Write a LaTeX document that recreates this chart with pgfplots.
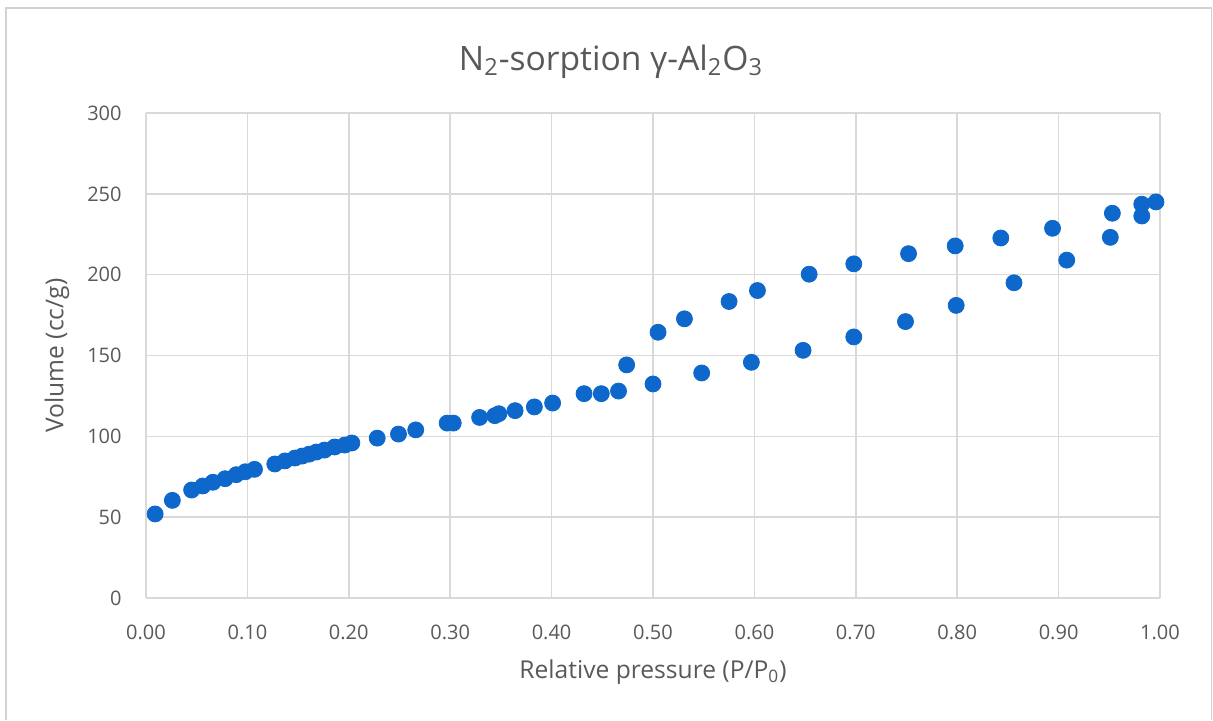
\documentclass[border=0pt]{standalone}
\usepackage{pgfplots}
\pgfplotsset{compat=1.18}
\usepackage{fontspec}
\setmainfont{Open Sans}
\definecolor{ptblue}{RGB}{14,104,204}
\definecolor{gridgray}{RGB}{217,217,217}
\definecolor{txtgray}{RGB}{89,89,89}
\definecolor{framegray}{RGB}{210,210,210}
\begin{document}
\begin{tikzpicture}
\useasboundingbox (0pt,0pt) rectangle (606.5pt,360pt);
\fill[white] (0pt,0pt) rectangle (606.5pt,360pt);
\draw[framegray,line width=0.8pt] (3pt,0pt) -- (3pt,356pt) -- (605.8pt,356pt) -- (605.8pt,0pt);
\node[font=\fontsize{16.8}{20}\selectfont, text=txtgray, anchor=center] at (305.5pt,329pt) {N\textsubscript{2}-sorption γ-Al\textsubscript{2}O\textsubscript{3}};
\begin{axis}[
  at={(73pt,61pt)}, anchor=south west,
  scale only axis,
  width=507pt, height=242.5pt,
  xmin=0, xmax=1, ymin=0, ymax=300,
  xtick={0,0.1,...,1.01}, ytick={0,50,...,300},
  grid=major,
  major grid style={gridgray, line width=0.8pt},
  axis line style={gridgray, line width=0.8pt},
  axis x line*=bottom, axis y line*=left,
  major tick length=0pt,
  /pgf/number format/assume math mode=true,
  xticklabel={\pgfmathprintnumber[fixed,fixed zerofill,precision=2]{\tick}},
  yticklabel={\pgfmathprintnumber[fixed,precision=0]{\tick}},
  tick label style={font=\fontsize{10}{12}\selectfont, text=txtgray},
  xticklabel style={anchor=center, yshift=-17pt},
  yticklabel style={anchor=east, inner sep=0pt, xshift=-12pt},
  xlabel={Relative pressure (P/P\textsubscript{0})},
  ylabel={Volume (cc/g)},
  every axis x label/.style={at={(axis description cs:0.5,0)}, yshift=-37pt, anchor=center, font=\fontsize{12.3}{14}\selectfont, text=txtgray},
  every axis y label/.style={at={(axis description cs:0,0.5)}, xshift=-44.5pt, rotate=90, anchor=center, font=\fontsize{12.3}{14}\selectfont, text=txtgray},
  clip=false,
]
\addplot[only marks, mark=*, mark size=4pt, mark options={fill=ptblue, draw=ptblue}] table {
x y
0.009 52.0
0.026 60.4
0.045 66.8
0.056 69.3
0.066 71.6
0.078 73.8
0.089 76.3
0.098 78.1
0.107 79.6
0.127 82.9
0.137 84.8
0.147 86.6
0.154 87.8
0.161 89.0
0.168 90.3
0.176 91.5
0.186 93.4
0.196 94.6
0.203 95.9
0.228 98.9
0.249 101.4
0.266 104.0
0.297 108.2
0.303 108.2
0.329 111.7
0.344 112.8
0.348 114.0
0.364 115.9
0.383 118.2
0.401 120.6
0.432 126.4
0.449 126.4
0.466 128.0
0.500 132.4
0.548 139.2
0.597 145.8
0.648 153.2
0.698 161.5
0.749 171.0
0.799 181.0
0.856 195.0
0.908 209.0
0.951 223.1
0.982 236.3
0.996 245.0
};
\addplot[only marks, mark=*, mark size=4pt, mark options={fill=ptblue, draw=ptblue}] table {
x y
0.982 243.6
0.953 238.0
0.894 228.7
0.843 222.7
0.798 217.8
0.752 213.0
0.698 206.7
0.654 200.3
0.603 190.2
0.575 183.4
0.531 172.7
0.505 164.4
0.474 144.2
};
\end{axis}
\end{tikzpicture}
\end{document}
